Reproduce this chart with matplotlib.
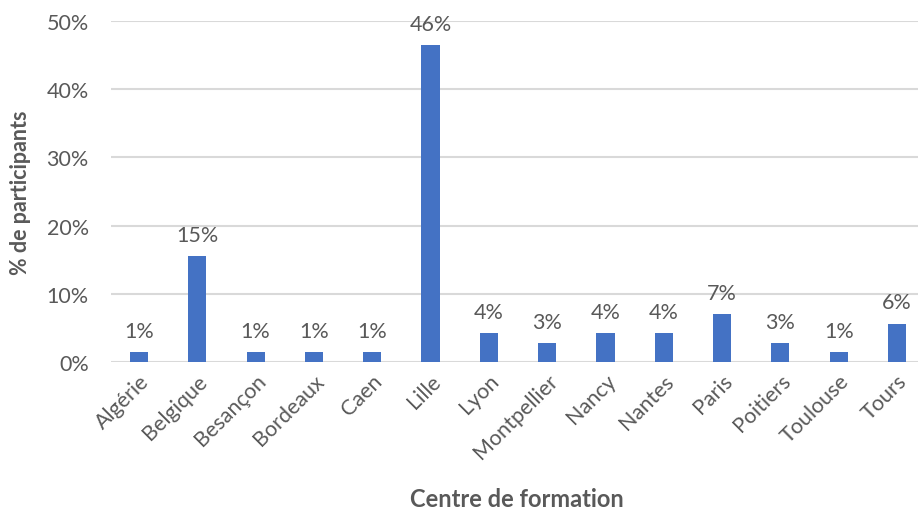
import matplotlib
matplotlib.use("Agg")
import matplotlib.pyplot as plt
from matplotlib.ticker import FuncFormatter

categories = ["Algérie", "Belgique", "Besançon", "Bordeaux", "Caen", "Lille", "Lyon",
              "Montpellier", "Nancy", "Nantes", "Paris", "Poitiers", "Toulouse", "Tours"]
values = [1.41, 15.49, 1.41, 1.41, 1.41, 46.48, 4.23, 2.82, 4.23, 4.23, 7.04, 2.82, 1.41, 5.63]
yticks = [0, 10, 20, 30, 40, 50]

plt.rcParams['font.family'] = ['Lato', 'DejaVu Sans']
grey = '#595959'

fig = plt.figure(figsize=(9.18, 5.10), dpi=100)
ax = fig.add_axes([111/918, 1-363/510, (918-111)/918, (363-22)/510])

x = list(range(len(categories)))
ax.bar(x, values, width=0.31, color='#4472C4', zorder=3)
for xi, v in zip(x, values):
    ax.annotate(f"{v:.0f}%", (xi, v), xytext=(0, 8), textcoords='offset points',
                ha='center', va='bottom', fontsize=15.5, color=grey)

ax.set_ylim(0, 50)
ax.set_xlim(-0.48, 13.36)
ax.set_yticks(yticks)
ax.yaxis.set_major_formatter(FuncFormatter(lambda v, p: f"{v:.0f}%"))
ax.grid(axis='y', color='#d9d9d9', linewidth=1.5, zorder=0)
ax.set_axisbelow(True)
for s in ax.spines.values():
    s.set_visible(False)
ax.tick_params(axis='both', length=0, labelsize=15.5, colors=grey)
ax.tick_params(axis='y', pad=16)
ax.set_xticks(x)
ax.set_xticklabels(categories, rotation=45, ha='right', rotation_mode='anchor')
ax.tick_params(axis='x', pad=6)

ax.set_ylabel("% de participants", fontsize=15.5, fontweight='bold', color=grey)
ax.yaxis.set_label_coords((31-111)/(918-111), 0.5)
ax.set_xlabel("Centre de formation", fontsize=17, fontweight='bold', color=grey)
ax.xaxis.set_label_coords((517-111)/(918-111), (363-488)/(363-22))

fig.savefig("out.png", dpi=100)
